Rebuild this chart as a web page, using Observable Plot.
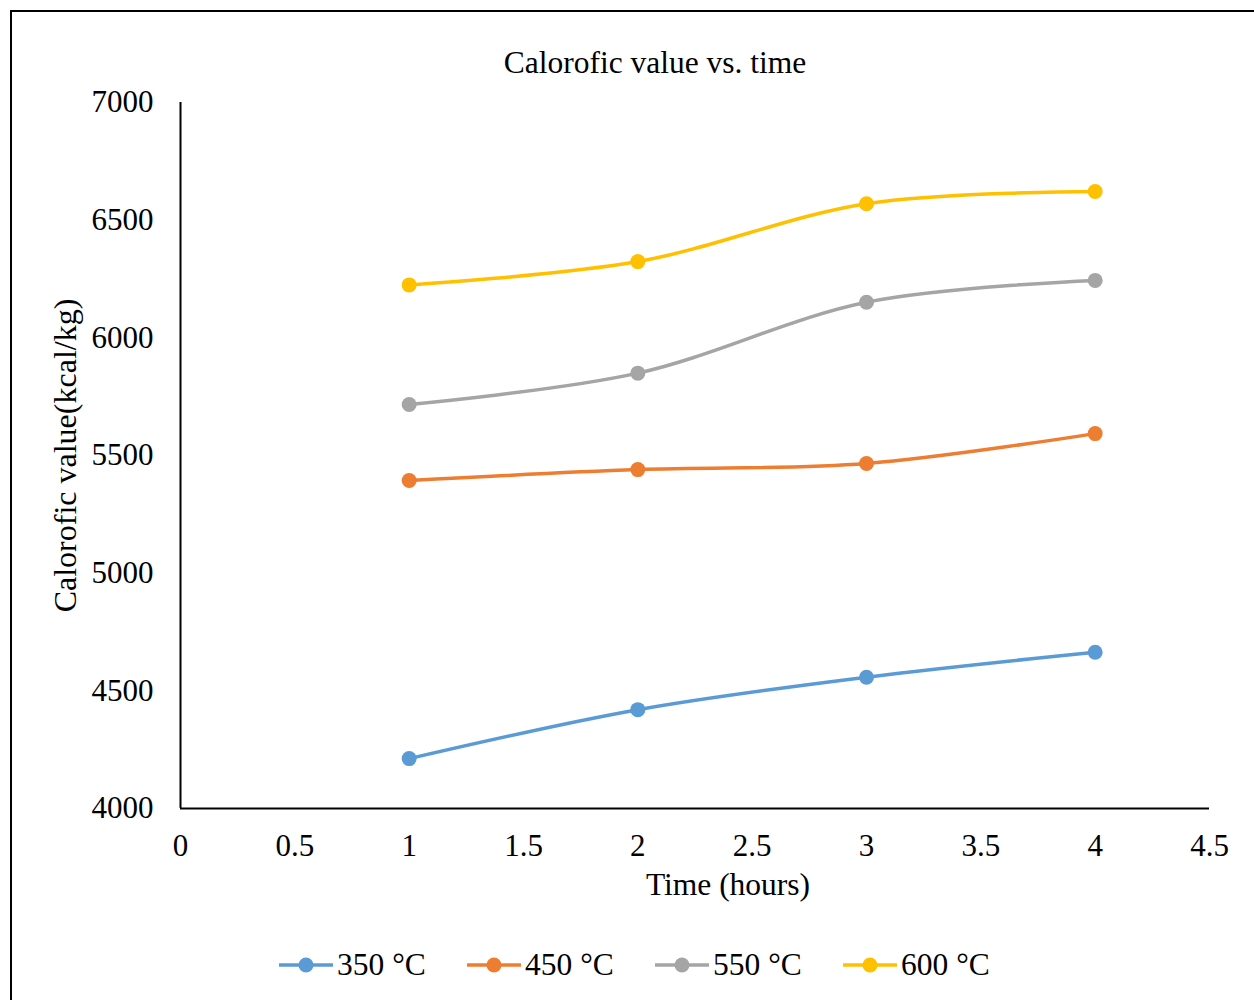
<!DOCTYPE html>
<html>
<head>
<meta charset="utf-8">
<script src="https://cdn.jsdelivr.net/npm/d3@7"></script>
<script src="https://cdn.jsdelivr.net/npm/@observablehq/plot@0.6"></script>
<style>
  html, body { margin: 0; padding: 0; background: #fff; }
  body { width: 1254px; height: 1000px; overflow: hidden; font-family: "Liberation Serif", "Times New Roman", serif; }
  #wrap { position: relative; width: 1254px; height: 1000px; }
  #frame { position: absolute; left: 10px; top: 10px; width: 1300px; height: 1100px; border: 2px solid #000; box-sizing: border-box; pointer-events: none; }
  #title { height: 90px; box-sizing: border-box; padding-top: 45px; line-height: 36px; font-size: 31.5px; text-align: center; padding-left: 56px; color: #000; }
  #chart svg { display: block; }
  #legend { position: absolute; left: 279px; top: 947px; height: 36px; display: flex; align-items: center; }
  .item { display: flex; align-items: center; width: 188px; font-size: 31.5px; line-height: 36px; color: #000; }
  .item svg { margin-right: 4px; flex: none; }
</style>
</head>
<body>
<div id="wrap">
  <div id="frame"></div>
  <div id="title">Calorofic value vs. time</div>
  <div id="chart"></div>
  <div id="legend"></div>
</div>
<script>
const times = [1, 2, 3, 4];
const seriesNames = ["350 °C", "450 °C", "550 °C", "600 °C"];
const s350 = [4212, 4420, 4558, 4664];
const s450 = [5394, 5440, 5466, 5593];
const s550 = [5717, 5850, 6151, 6244];
const s600 = [6225, 6324, 6570, 6622];
const colors = ["#5B9BD5", "#ED7D31", "#A5A5A5", "#FFC000"];
const xTicks = [0, 0.5, 1, 1.5, 2, 2.5, 3, 3.5, 4, 4.5];
const yTicks = [4000, 4500, 5000, 5500, 6000, 6500, 7000];
const xTitle = "Time (hours)";
const yTitle = "Calorofic value(kcal/kg)";

const seriesValues = [s350, s450, s550, s600];
const data = [];
seriesNames.forEach((s, i) => times.forEach((t, j) => data.push({s, t, v: seriesValues[i][j]})));

const curve = d3.curveCatmullRom.alpha(0);

const chart = Plot.plot({
  width: 1254,
  height: 820,
  marginLeft: 180,
  marginRight: 45,
  marginTop: 12,
  marginBottom: 102,
  style: {fontFamily: '"Liberation Serif", "Times New Roman", serif', fontSize: "31px", color: "#000", background: "transparent", overflow: "visible"},
  x: {domain: [0, 4.5]},
  y: {domain: [4000, 7000]},
  color: {domain: seriesNames, range: colors},
  marks: [
    Plot.axisX({ticks: xTicks, tickFormat: d => String(d), tickSize: 0, tickPadding: 25, label: null}),
    Plot.axisY({ticks: yTicks, tickFormat: d => String(d), tickSize: 0, tickPadding: 27, label: null}),
    Plot.ruleX([0], {stroke: "#000", strokeWidth: 2}),
    Plot.ruleY([4000], {stroke: "#000", strokeWidth: 2}),
    Plot.line(data, {x: "t", y: "v", z: "s", stroke: "s", strokeWidth: 3.5, curve}),
    Plot.dot(data, {x: "t", y: "v", fill: "s", r: 7.5}),
    Plot.text([xTitle], {frameAnchor: "bottom", dx: 33, dy: 76, textAnchor: "middle", lineAnchor: "middle", fill: "#000", fontSize: 31.5}),
    Plot.text([yTitle], {frameAnchor: "left", dx: -115, rotate: -90, textAnchor: "middle", lineAnchor: "middle", fill: "#000", fontSize: 32})
  ]
});
document.getElementById("chart").appendChild(chart);

const legend = document.getElementById("legend");
seriesNames.forEach((s, i) => {
  const item = document.createElement("div");
  item.className = "item";
  item.innerHTML = `<svg width="54" height="20"><line x1="0" y1="10" x2="54" y2="10" stroke="${colors[i]}" stroke-width="3.5"/><circle cx="27" cy="10" r="7.5" fill="${colors[i]}"/></svg><span>${s}</span>`;
  legend.appendChild(item);
});
</script>
</body>
</html>
